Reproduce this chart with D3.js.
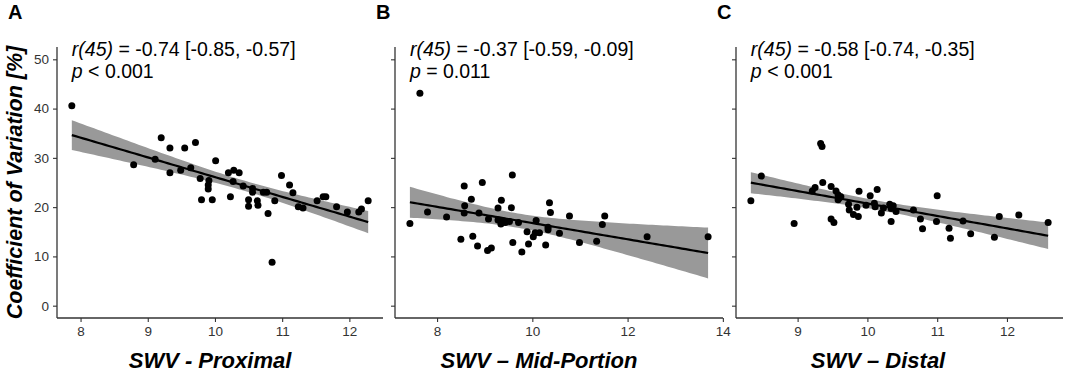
<!DOCTYPE html>
<html>
<head>
<meta charset="utf-8">
<script src="https://cdn.jsdelivr.net/npm/d3@7"></script>
<style>
  html, body { margin: 0; padding: 0; background: #fff; }
  svg { display: block; font-family: "Liberation Sans", Arial, sans-serif; }
</style>
</head>
<body>
<svg id="chart" width="1065" height="374"></svg>
<script>
// ---- Data ----
const panelLabels = ["A", "B", "C"];
const xTitles = ["SWV - Proximal", "SWV \u2013 Mid-Portion", "SWV \u2013 Distal"];
const yTitle = "Coefficient of Variation [%]";
const rTexts = ["= -0.74 [-0.85, -0.57]", "= -0.37 [-0.59, -0.09]", "= -0.58 [-0.74, -0.35]"];
const pTexts = ["< 0.001", "= 0.011", "< 0.001"];
const yTicks = [0, 10, 20, 30, 40, 50];
const xTicksA = [8, 9, 10, 11, 12];
const xTicksB = [8, 10, 12, 14];
const xTicksC = [9, 10, 11, 12];

const ax = [7.87, 8.79, 9.11, 9.20, 9.33, 9.33, 9.49, 9.55, 9.64, 9.71, 9.78, 9.91, 9.90, 9.80, 9.96, 10.01,
  10.20, 10.28, 10.36, 10.27, 10.23, 10.42, 10.56, 10.56, 10.50, 10.50, 10.63, 10.64, 10.72, 10.77, 10.79,
  10.89, 10.85, 10.99, 11.11, 11.16, 11.24, 11.31, 11.52, 11.61, 11.65, 11.81, 11.97, 12.14, 12.18, 12.28, 9.90];
const ay = [40.6, 28.6, 29.7, 34.1, 32.0, 27.0, 27.5, 32.0, 28.0, 33.1, 25.8, 25.4, 23.7, 21.5, 21.5, 29.4,
  27.0, 27.5, 27.0, 25.2, 22.1, 24.3, 23.8, 23.0, 21.5, 20.2, 21.3, 20.4, 23.0, 23.0, 18.7,
  21.3, 8.8, 26.4, 24.5, 22.9, 20.1, 19.8, 21.3, 22.1, 22.1, 20.1, 19.0, 19.0, 19.6, 21.3, 24.5];

const bx = [7.64, 7.43, 7.80, 8.20, 8.57, 8.95, 8.72, 8.58, 8.57, 8.88, 8.50, 8.75, 8.85, 9.06, 9.14, 9.08,
  9.35, 9.28, 9.58, 9.56, 9.28, 9.34, 9.43, 9.52, 9.71, 9.59, 9.78, 9.92, 9.89, 10.08, 10.02, 10.06,
  10.28, 10.33, 10.36, 10.38, 10.15, 10.57, 10.78, 10.99, 11.35, 11.47, 11.52, 12.41, 13.69, 10.33, 9.40];
const by = [43.1, 16.7, 19.0, 18.0, 24.3, 25.0, 21.6, 20.3, 18.8, 18.8, 13.5, 14.1, 12.1, 11.2, 11.7, 17.6,
  21.4, 19.8, 26.5, 19.9, 17.4, 16.6, 16.9, 17.1, 16.9, 12.8, 10.9, 12.5, 15.0, 17.3, 14.0, 14.8,
  12.3, 15.4, 20.9, 18.9, 14.8, 14.7, 18.2, 12.8, 13.1, 16.5, 18.2, 14.0, 14.0, 15.9, 17.2];

const cx = [9.33, 9.35, 8.48, 8.33, 8.95, 9.36, 9.48, 9.25, 9.21, 9.55, 9.58, 9.62, 9.58, 9.48, 9.52, 9.73,
  9.74, 9.80, 9.87, 9.85, 9.88, 9.98, 10.04, 10.11, 10.14, 10.20, 10.23, 10.32, 10.34, 10.34, 10.41,
  10.10, 10.66, 10.76, 10.79, 10.99, 11.00, 11.17, 11.19, 11.37, 11.48, 11.82, 11.89, 12.17, 12.59, 9.60, 10.37];
const cy = [32.9, 32.3, 26.3, 21.3, 16.7, 25.0, 24.2, 24.0, 23.3, 23.3, 22.5, 22.1, 21.5, 17.6, 16.9, 20.6,
  19.4, 18.5, 18.1, 20.0, 23.2, 20.4, 22.3, 20.1, 23.6, 18.8, 19.8, 20.6, 19.7, 17.1, 19.1,
  20.8, 19.4, 17.6, 15.6, 17.1, 22.3, 15.7, 13.7, 17.2, 14.6, 13.9, 18.1, 18.4, 16.9, 21.9, 20.3];

// ---- Layout ----
const W = 1065, H = 374;
const plotTop = 47, plotBottom = 318;
const panels = [
  { xs: ax, ys: ay, ticks: xTicksA, left: 57, right: 383, showYLabels: true, labelX: 8, titleX: 210 },
  { xs: bx, ys: by, ticks: xTicksB, left: 395, right: 723, showYLabels: false, labelX: 376, titleX: 539 },
  { xs: cx, ys: cy, ticks: xTicksC, left: 736, right: 1063, showYLabels: false, labelX: 717, titleX: 878 }
];
const tCrit = 2.0141; // qt(0.975, 45)

const svg = d3.select("#chart");
const y = d3.scaleLinear().domain([-2.5, 52.5]).range([plotBottom, plotTop]);

panels.forEach((p, i) => {
  const pts = p.xs.map((v, k) => ({ x: v, y: p.ys[k] }));
  const [xmin, xmax] = d3.extent(p.xs);
  const r = xmax - xmin;
  const x = d3.scaleLinear().domain([xmin - 0.05 * r, xmax + 0.05 * r]).range([p.left, p.right]);

  // linear fit + 95% confidence band
  const n = pts.length;
  const mx = d3.mean(p.xs), my = d3.mean(p.ys);
  const sxx = d3.sum(p.xs, v => (v - mx) ** 2);
  const sxy = d3.sum(pts, d => (d.x - mx) * (d.y - my));
  const b1 = sxy / sxx, b0 = my - b1 * mx;
  const s = Math.sqrt(d3.sum(pts, d => (d.y - (b0 + b1 * d.x)) ** 2) / (n - 2));
  const grid = d3.range(0, 81).map(k => xmin + (xmax - xmin) * k / 80);
  const band = grid.map(gx => {
    const fit = b0 + b1 * gx;
    const se = s * Math.sqrt(1 / n + (gx - mx) ** 2 / sxx);
    return { x: gx, fit, lo: fit - tCrit * se, hi: fit + tCrit * se };
  });

  const g = svg.append("g");

  g.append("path")
    .datum(band)
    .attr("fill", "#999999")
    .attr("d", d3.area().x(d => x(d.x)).y0(d => y(d.lo)).y1(d => y(d.hi)));

  g.append("path")
    .datum(band)
    .attr("fill", "none")
    .attr("stroke", "#000")
    .attr("stroke-width", 2.2)
    .attr("d", d3.line().x(d => x(d.x)).y(d => y(d.fit)));

  g.selectAll("circle.pt")
    .data(pts)
    .join("circle")
    .attr("class", "pt")
    .attr("cx", d => x(d.x))
    .attr("cy", d => y(d.y))
    .attr("r", 3.5)
    .attr("fill", "#000");

  // axes
  const xAxis = g.append("g")
    .attr("transform", `translate(0,${plotBottom})`)
    .call(d3.axisBottom(x).tickValues(p.ticks).tickSize(4).tickPadding(4).tickFormat(d3.format("d")));
  const yAxis = g.append("g")
    .attr("transform", `translate(${p.left},0)`)
    .call(d3.axisLeft(y).tickValues(yTicks).tickSize(4).tickPadding(4)
      .tickFormat(p.showYLabels ? d3.format("d") : () => ""));
  [xAxis, yAxis].forEach(a => {
    a.select(".domain").attr("stroke", "#333").attr("stroke-width", 1.3).attr("d",
      a === xAxis ? `M${p.left},0H${p.right}` : `M0,${plotBottom}V${plotTop}`);
    a.selectAll(".tick line").attr("stroke", "#333").attr("stroke-width", 1.1);
    a.selectAll(".tick text").attr("fill", "#333").attr("font-size", 13.5)
      .attr("font-family", "Liberation Sans, Arial, sans-serif");
  });

  // annotations
  const tx = x(xmin);
  const t1 = g.append("text").attr("x", tx).attr("y", 56).attr("font-size", 19.5).attr("fill", "#000");
  t1.append("tspan").attr("font-style", "italic").text("r(45)");
  t1.append("tspan").text(" " + rTexts[i]);
  const t2 = g.append("text").attr("x", tx).attr("y", 78).attr("font-size", 19.5).attr("fill", "#000");
  t2.append("tspan").attr("font-style", "italic").text("p");
  t2.append("tspan").text(" " + pTexts[i]);

  // panel letter
  svg.append("text").attr("x", p.labelX).attr("y", 19)
    .attr("font-size", 20).attr("font-weight", "bold").attr("fill", "#000").text(panelLabels[i]);

  // x title
  svg.append("text").attr("x", p.titleX).attr("y", 368).attr("text-anchor", "middle")
    .attr("font-size", 22).attr("font-weight", "bold").attr("font-style", "italic").attr("fill", "#000")
    .text(xTitles[i]);
});

svg.append("text")
  .attr("transform", `translate(22,${(plotTop + plotBottom) / 2}) rotate(-90)`)
  .attr("text-anchor", "middle")
  .attr("font-size", 21.5).attr("font-weight", "bold").attr("font-style", "italic").attr("fill", "#000")
  .text(yTitle);
</script>
</body>
</html>
